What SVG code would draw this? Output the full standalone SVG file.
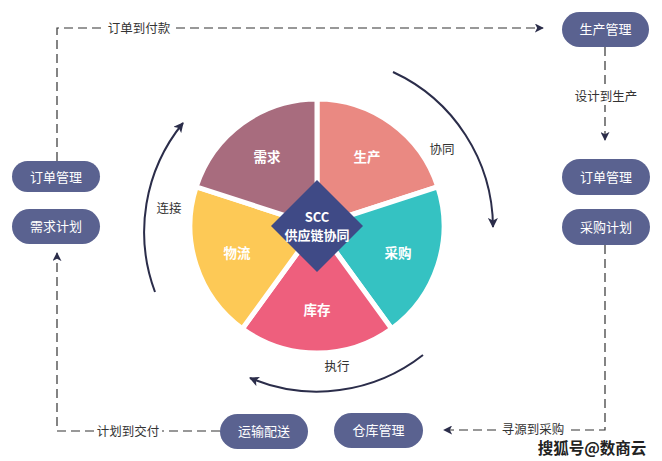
<svg xmlns="http://www.w3.org/2000/svg" width="662" height="461" viewBox="0 0 662 461">
<defs>
<style>
.pill{fill:#5A6290;}
.pt{fill:#fff;font-family:"Noto Sans CJK SC",sans-serif;font-size:13px;text-anchor:middle;}
.lbl{fill:#333;font-family:"Noto Sans CJK SC",sans-serif;font-size:12.5px;text-anchor:middle;}
.st{fill:#fff;font-family:"Noto Sans CJK SC",sans-serif;font-size:13.5px;font-weight:bold;text-anchor:middle;}
.slice{stroke:#fff;stroke-width:5;stroke-linejoin:miter;}
.dash{fill:none;stroke:#333;stroke-width:1.2;stroke-dasharray:9 5;}
.arc{fill:none;stroke:#2B2D4A;stroke-width:2;}
.bg{fill:#fff;}
</style>
<marker id="ah" viewBox="0 0 10 10" refX="9" refY="5" markerWidth="10" markerHeight="10" markerUnits="userSpaceOnUse" orient="auto">
<path d="M0,0 L10,5 L0,10 L2.5,5 Z" fill="#2B2D4A"/>
</marker>
<marker id="ah2" viewBox="0 0 10 10" refX="9" refY="5" markerWidth="9" markerHeight="9" markerUnits="userSpaceOnUse" orient="auto">
<path d="M0,0 L10,5 L0,10 L2.5,5 Z" fill="#2B2D4A"/>
</marker>
</defs>
<rect width="662" height="461" fill="#fff"/>

<g id="connectors">
<path class="dash" d="M57,161 V28 H543" marker-end="url(#ah2)"/>
<rect class="bg" x="104" y="19" width="70" height="18"/>
<text class="lbl" x="139" y="33">订单到付款</text>

<path class="dash" d="M605,47 V140" marker-end="url(#ah2)"/>
<rect class="bg" x="571" y="87" width="70" height="18"/>
<text class="lbl" x="606" y="101">设计到生产</text>

<path class="dash" d="M605,245 V430 H444" marker-end="url(#ah2)"/>
<rect class="bg" x="499" y="421" width="68" height="16"/>
<text class="lbl" x="533" y="434">寻源到采购</text>

<path class="dash" d="M220,431 H57 V253" marker-end="url(#ah2)"/>
<rect class="bg" x="94" y="422" width="68" height="18"/>
<text class="lbl" x="128" y="436">计划到交付</text>

<path class="arc" d="M393,72 A172,172 0 0 1 493,227" marker-end="url(#ah)"/>
<text class="lbl" x="442" y="154">协同</text>
<path class="arc" d="M155,292 A172,172 0 0 1 183,123" marker-end="url(#ah)"/>
<text class="lbl" x="169" y="213">连接</text>
<path class="arc" d="M423,355 A172,172 0 0 1 250,378" marker-end="url(#ah)"/>
<text class="lbl" x="337" y="371">执行</text>
</g>

<g id="pie">
<g id="s-shengchan"><path class="slice" fill="#EA8982" d="M317,226 L317,99 A127,127 0 0 1 437.79,186.76 Z"/><text class="st" x="367" y="162">生产</text></g>
<g id="s-caigou"><path class="slice" fill="#35C2C2" d="M317,226 L437.79,186.76 A127,127 0 0 1 391.65,328.74 Z"/><text class="st" x="398" y="258">采购</text></g>
<g id="s-kucun"><path class="slice" fill="#EE5F7D" d="M317,226 L391.65,328.74 A127,127 0 0 1 242.35,328.74 Z"/><text class="st" x="317" y="315">库存</text></g>
<g id="s-wuliu"><path class="slice" fill="#FDC956" d="M317,226 L242.35,328.74 A127,127 0 0 1 196.21,186.76 Z"/><text class="st" x="237" y="258">物流</text></g>
<g id="s-xuqiu"><path class="slice" fill="#A86C7E" d="M317,226 L196.21,186.76 A127,127 0 0 1 317,99 Z"/><text class="st" x="267" y="162">需求</text></g>
<g id="center"><polygon points="317,180 363,226 317,272 271,226" fill="#3F4A86"/>
<text class="st" x="317" y="222" style="font-size:13px">SCC</text>
<text class="st" x="317" y="240" style="font-size:13px">供应链协同</text></g>
</g>

<g id="n-shengchanguanli"><rect class="pill" x="562" y="12" width="87" height="35" rx="17.5"/><text class="pt" x="605.5" y="34">生产管理</text></g>
<g id="n-dingdan-r"><rect class="pill" x="562" y="159" width="88" height="36" rx="18"/><text class="pt" x="606" y="182">订单管理</text></g>
<g id="n-caigoujihua"><rect class="pill" x="562" y="209" width="88" height="36" rx="18"/><text class="pt" x="606" y="232">采购计划</text></g>
<g id="n-dingdan-l"><rect class="pill" x="12" y="161" width="88" height="31" rx="15.5"/><text class="pt" x="56" y="181.5">订单管理</text></g>
<g id="n-xuqiujihua"><rect class="pill" x="12" y="209" width="88" height="35" rx="17.5"/><text class="pt" x="56" y="231">需求计划</text></g>
<g id="n-yunshu"><rect class="pill" x="220" y="414" width="88" height="35" rx="17.5"/><text class="pt" x="264" y="436">运输配送</text></g>
<g id="n-cangku"><rect class="pill" x="334" y="413" width="89" height="35" rx="17.5"/><text class="pt" x="378.5" y="435">仓库管理</text></g>

<text x="592" y="454" style="font-family:'Noto Sans CJK SC',sans-serif;font-size:15.5px;font-weight:bold;text-anchor:middle;fill:#222;stroke:#fff;stroke-width:2.5;paint-order:stroke;">搜狐号@数商云</text>
</svg>
